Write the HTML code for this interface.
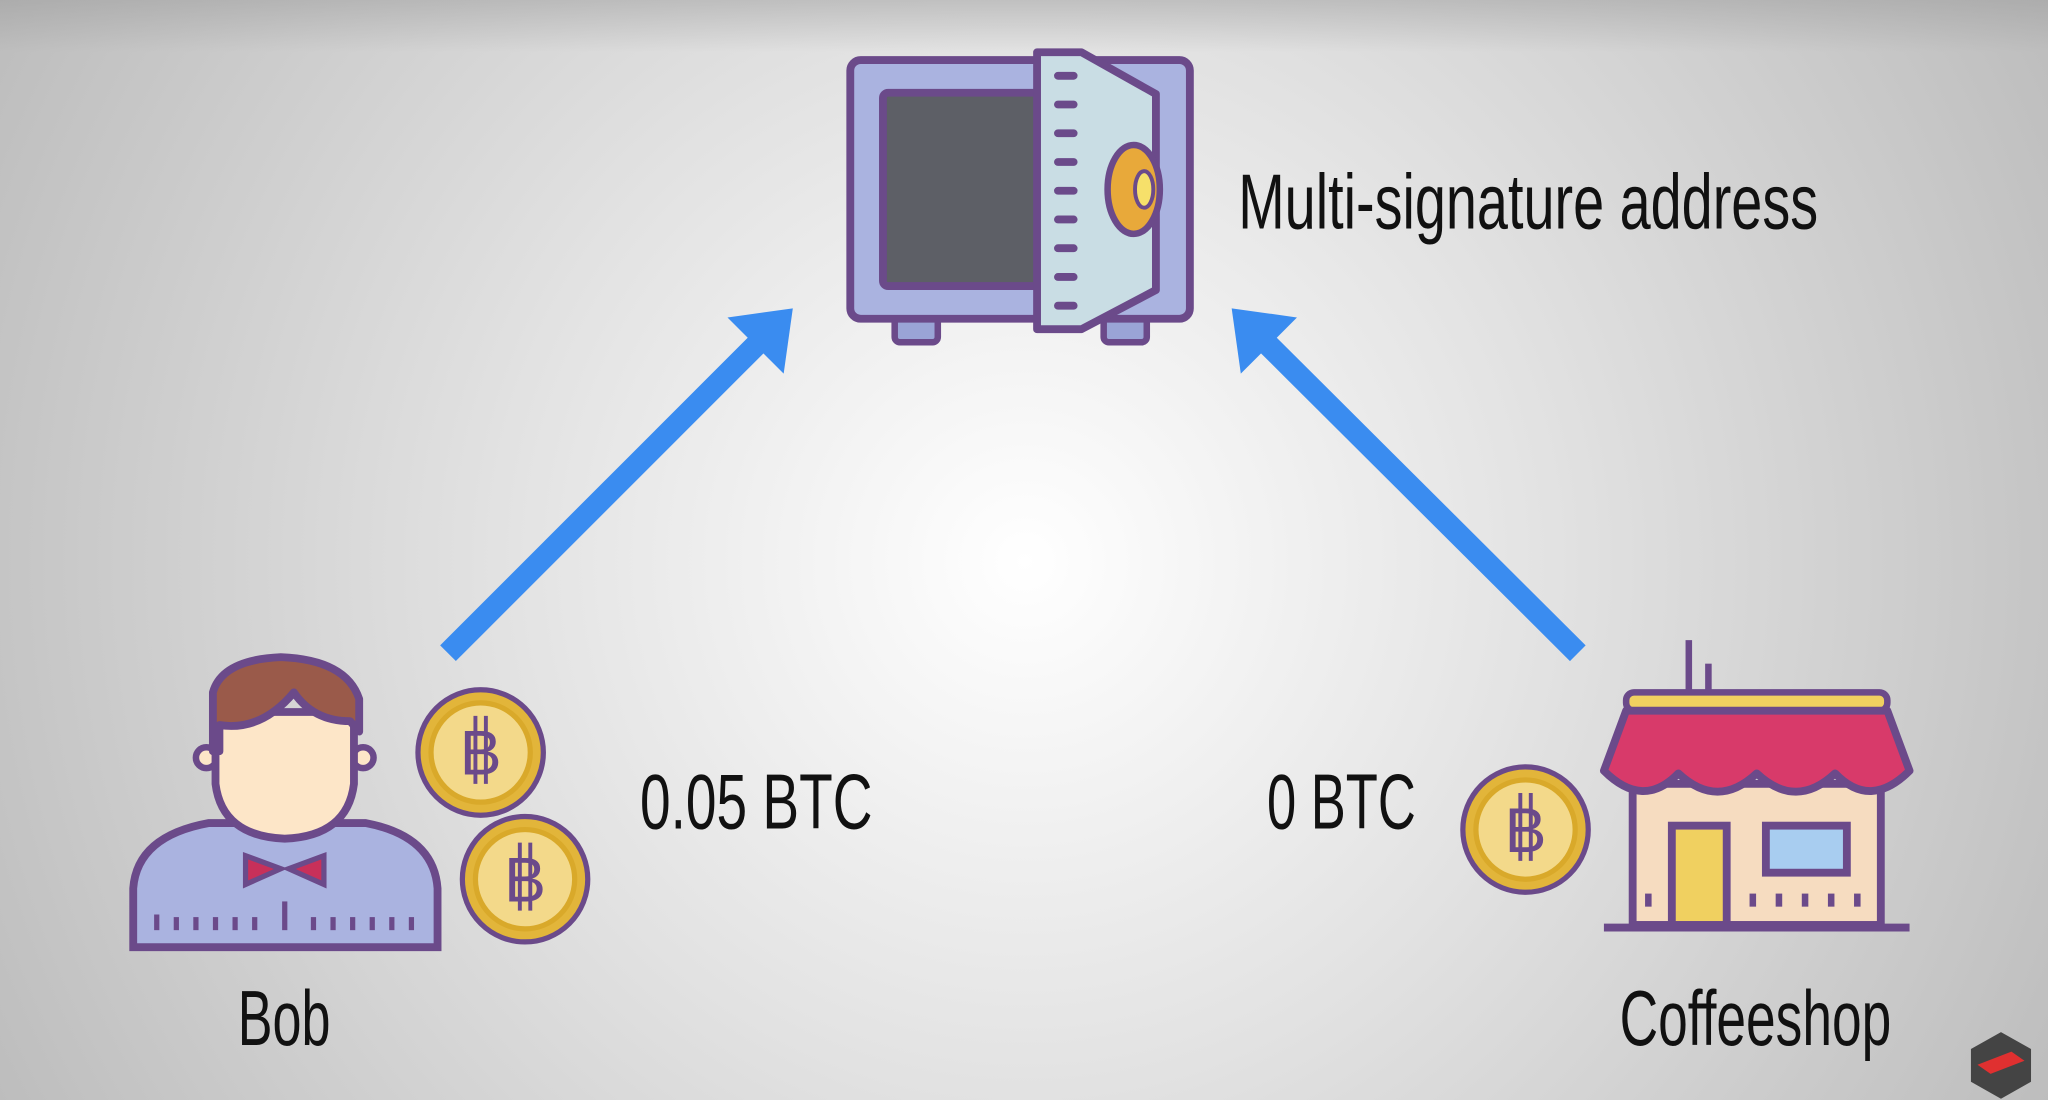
<!DOCTYPE html>
<html><head><meta charset="utf-8"><style>
html,body{margin:0;padding:0;width:2048px;height:1100px;overflow:hidden}
svg{display:block}
text{font-family:"Liberation Sans Narrow","Liberation Sans",sans-serif;fill:#111}
</style></head><body>
<svg width="2048" height="1100" viewBox="0 0 1568 842" preserveAspectRatio="none">
<defs>
<radialGradient id="bg" cx="785" cy="430" r="900" gradientUnits="userSpaceOnUse">
<stop offset="0" stop-color="#ffffff"/><stop offset="0.45" stop-color="#e2e2e2"/><stop offset="1" stop-color="#bcbcbc"/></radialGradient>
<linearGradient id="top" x1="0" y1="0" x2="0" y2="1"><stop offset="0" stop-color="#999" stop-opacity="0.45"/><stop offset="1" stop-color="#999" stop-opacity="0"/></linearGradient>
<g id="coin"><circle r="48" fill="#e2b53a" stroke="#6b4a8a" stroke-width="4"/><circle r="38" fill="#f3d98a" stroke="#d9a92a" stroke-width="4"/>
<text x="0" y="17" text-anchor="middle" font-size="48" style="fill:#6b4a8a;font-family:'Liberation Sans',sans-serif">B</text>
<line x1="-4" y1="-28" x2="-4" y2="24" stroke="#6b4a8a" stroke-width="3"/><line x1="4" y1="-28" x2="4" y2="24" stroke="#6b4a8a" stroke-width="3"/></g>
</defs>
<rect width="1568" height="842" fill="url(#bg)"/>
<rect width="1568" height="40" fill="url(#top)"/>
<!-- safe -->
<rect x="685" y="240" width="33" height="22" rx="4" fill="#9aa4d6" stroke="#6b4a8a" stroke-width="5"/>
<rect x="845" y="240" width="33" height="22" rx="4" fill="#9aa4d6" stroke="#6b4a8a" stroke-width="5"/>
<rect x="651" y="46" width="260" height="198" rx="8" fill="#aab3e0" stroke="#6b4a8a" stroke-width="6"/>
<rect x="676" y="71" width="124" height="148" rx="4" fill="#5d5f66" stroke="#6b4a8a" stroke-width="6"/>
<polygon points="794,40 828,40 885,72 885,222 828,252 794,252" fill="#c9dde4" stroke="#6b4a8a" stroke-width="6" stroke-linejoin="round"/>
<g stroke="#6b4a8a" stroke-width="6" stroke-linecap="round">
<line x1="810" y1="58" x2="822" y2="58"/><line x1="810" y1="80" x2="822" y2="80"/><line x1="810" y1="102" x2="822" y2="102"/><line x1="810" y1="124" x2="822" y2="124"/><line x1="810" y1="146" x2="822" y2="146"/><line x1="810" y1="168" x2="822" y2="168"/><line x1="810" y1="190" x2="822" y2="190"/><line x1="810" y1="212" x2="822" y2="212"/><line x1="810" y1="234" x2="822" y2="234"/></g>
<ellipse cx="868" cy="145" rx="20" ry="34" fill="#e8a93a" stroke="#6b4a8a" stroke-width="5"/>
<ellipse cx="876" cy="145" rx="7" ry="14" fill="#f6e06a" stroke="#6b4a8a" stroke-width="3"/>
<text x="948" y="175" font-size="60" textLength="444" lengthAdjust="spacingAndGlyphs">Multi-signature address</text>
<!-- arrows -->
<g stroke="#3a8cf0" stroke-width="17" fill="#3a8cf0">
<line x1="343" y1="500" x2="580" y2="263"/><line x1="1208" y1="500" x2="970" y2="263"/></g>
<polygon points="607,236 557,243 600,286" fill="#3a8cf0"/>
<polygon points="943,236 993,243 950,286" fill="#3a8cf0"/>
<!-- Bob -->
<path d="M102,725 L102,680 Q105,640 160,630 L280,630 Q332,640 335,680 L335,725 Z" fill="#aab3e0" stroke="#6b4a8a" stroke-width="6"/>
<g stroke="#6b4a8a" stroke-width="4"><line x1="120" y1="700" x2="120" y2="712"/><line x1="135" y1="702" x2="135" y2="712"/><line x1="150" y1="702" x2="150" y2="712"/><line x1="165" y1="702" x2="165" y2="712"/><line x1="180" y1="702" x2="180" y2="712"/><line x1="195" y1="702" x2="195" y2="712"/><line x1="218" y1="690" x2="218" y2="712"/><line x1="240" y1="702" x2="240" y2="712"/><line x1="255" y1="702" x2="255" y2="712"/><line x1="270" y1="702" x2="270" y2="712"/><line x1="285" y1="702" x2="285" y2="712"/><line x1="300" y1="702" x2="300" y2="712"/><line x1="315" y1="702" x2="315" y2="712"/></g>
<polygon points="188,655 215,665 188,677" fill="#c8305a" stroke="#6b4a8a" stroke-width="4"/>
<polygon points="248,655 221,665 248,677" fill="#c8305a" stroke="#6b4a8a" stroke-width="4"/>
<circle cx="158" cy="580" r="8" fill="#fde6c8" stroke="#6b4a8a" stroke-width="5"/>
<circle cx="278" cy="580" r="8" fill="#fde6c8" stroke="#6b4a8a" stroke-width="5"/>
<path d="M165,545 L165,600 Q170,640 218,642 Q266,640 271,600 L271,545 Z" fill="#fde6c8" stroke="#6b4a8a" stroke-width="6"/>
<path d="M163,575 L163,530 Q170,505 215,503 Q265,505 275,535 L275,560 L268,552 Q240,552 225,530 Q200,560 168,555 L168,575 Z" fill="#9a5a4a" stroke="#6b4a8a" stroke-width="6" stroke-linejoin="round"/>
<use href="#coin" x="368" y="576"/>
<use href="#coin" x="402" y="673"/>
<text x="490" y="634" font-size="60" textLength="178" lengthAdjust="spacingAndGlyphs">0.05 BTC</text>
<text x="182" y="800" font-size="60" textLength="71" lengthAdjust="spacingAndGlyphs">Bob</text>
<!-- coffeeshop -->
<text x="970" y="634" font-size="60" textLength="114" lengthAdjust="spacingAndGlyphs">0 BTC</text>
<use href="#coin" x="1168" y="635"/>
<line x1="1293" y1="490" x2="1293" y2="530" stroke="#6b4a8a" stroke-width="5"/>
<line x1="1308" y1="508" x2="1308" y2="530" stroke="#6b4a8a" stroke-width="5"/>
<rect x="1250" y="600" width="190" height="108" fill="#f6dcc0" stroke="#6b4a8a" stroke-width="6"/>
<rect x="1245" y="530" width="200" height="14" rx="6" fill="#f0d060" stroke="#6b4a8a" stroke-width="5"/>
<path d="M1245,544 L1228,590 Q1258,620 1285,592 Q1315,620 1345,592 Q1375,620 1405,592 Q1432,620 1462,590 L1445,544 Z" fill="#d83a6a" stroke="#6b4a8a" stroke-width="6" stroke-linejoin="round"/>
<rect x="1280" y="632" width="42" height="76" fill="#f0d060" stroke="#6b4a8a" stroke-width="6"/>
<rect x="1352" y="632" width="62" height="36" fill="#a8cdf0" stroke="#6b4a8a" stroke-width="6"/>
<line x1="1228" y1="710" x2="1462" y2="710" stroke="#6b4a8a" stroke-width="6"/>
<g stroke="#6b4a8a" stroke-width="5"><line x1="1262" y1="684" x2="1262" y2="694"/><line x1="1342" y1="684" x2="1342" y2="694"/><line x1="1362" y1="684" x2="1362" y2="694"/><line x1="1382" y1="684" x2="1382" y2="694"/><line x1="1402" y1="684" x2="1402" y2="694"/><line x1="1422" y1="684" x2="1422" y2="694"/></g>
<text x="1240" y="800" font-size="60" textLength="208" lengthAdjust="spacingAndGlyphs">Coffeeshop</text>
<!-- logo -->
<polygon points="1532,790 1555,803 1555,828 1532,841 1509,828 1509,803" fill="#444"/>
<polygon points="1514,815 1540,805 1550,812 1524,822" fill="#e03030"/>
</svg>
</body></html>
